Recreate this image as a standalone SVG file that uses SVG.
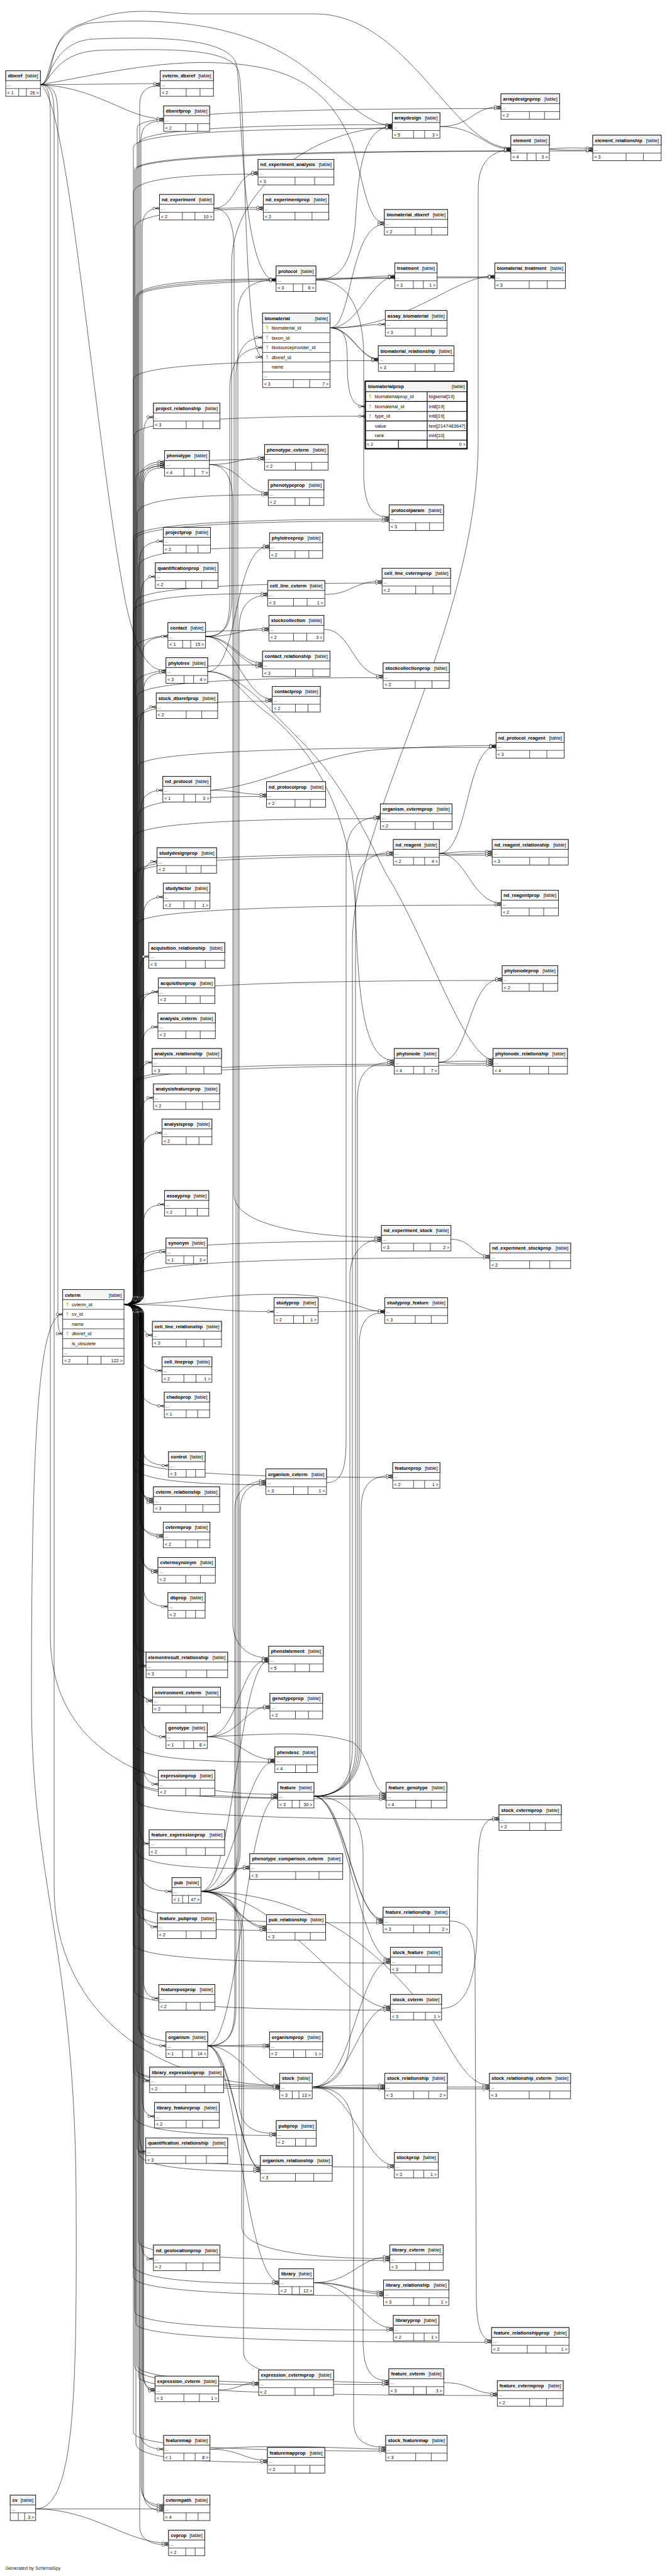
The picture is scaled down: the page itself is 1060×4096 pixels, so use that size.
<svg xmlns="http://www.w3.org/2000/svg" xmlns:xlink="http://www.w3.org/1999/xlink" width="1060" height="4096" viewBox="0 0 1060 4096">
<style>
.e{fill:none;stroke:#000;stroke-width:.6;marker-end:url(#cf)}
.b{fill:#fff;stroke:#000;stroke-width:.8}
.h{fill:#f4f4f4;stroke:#000;stroke-width:.8}
.l{fill:none;stroke:#000;stroke-width:.7}
.bt{fill:#fff;stroke:#000;stroke-width:1.7}
.lt{fill:none;stroke:#000;stroke-width:1.1}
text{font-family:"Liberation Sans",Arial,Helvetica,sans-serif;font-size:7px;fill:#000}
.n{font-weight:bold;font-size:7.5px}
.k{font-size:7.5px;text-anchor:end}
.c{font-size:7.5px}
.re{text-anchor:end}
</style>
<defs>
<marker id="cf" viewBox="0 0 12 8" refX="12" refY="4" markerWidth="12" markerHeight="8" markerUnits="userSpaceOnUse" orient="auto"><path d="M5.5 4H12M5.5 4L12 1.8M5.5 4L12 6.2" fill="none" stroke="#000" stroke-width=".6"/><circle cx="3.4" cy="4" r="2" fill="#fff" stroke="#000" stroke-width=".6"/></marker>
<g id="kp"><circle cy="-1.9" r="1.3" fill="#e6e600" stroke="#a8a800" stroke-width=".4"/><path d="M0 -.6V3.2M0 2.4H1M0 1.2H.8" fill="none" stroke="#b8b800" stroke-width=".7"/></g>
<g id="kf"><circle cy="-1.9" r="1.3" fill="#c8c8c8" stroke="#999" stroke-width=".4"/><path d="M0 -.6V3.2M0 2.4H1M0 1.2H.8" fill="none" stroke="#aaa" stroke-width=".7"/></g>
</defs>
<rect width="1060" height="4096" fill="#fff"/>
<g id="connectors">
<path class="e" d="M197 2074.3Q222 2074.3 222 2059.3L222 166Q222 136 254.7 136"/>
<path class="e" d="M197 2074.3Q224 2074.3 224 2059.3L224 221.8Q224 191.8 260.1 191.8"/>
<path class="e" d="M197 2074.3Q212 2074.3 212 2059.3L212 306.9Q212 276.9 410.1 276.9"/>
<path class="e" d="M197 2074.3Q226 2074.3 226 2059.3L226 361.2Q226 331.2 253.4 331.2"/>
<path class="e" d="M197 2074.3Q214 2074.3 214 2059.3L214 362.7Q214 332.7 418.5 332.7"/>
<path class="e" d="M197 2074.3Q216 2074.3 216 2059.3L216 473.5Q216 443.5 438.8 443.5"/>
<path class="e" d="M197 2074.3Q228 2074.3 228 2059.3L228 693.1Q228 663.1 243.9 663.1"/>
<path class="e" d="M197 2074.3Q218 2074.3 218 2059.3L218 202.6Q218 172.6 796.1 172.6"/>
<path class="e" d="M197 2074.3Q220 2074.3 220 2059.3L220 228.2Q220 198.2 623.4 198.2"/>
<path class="e" d="M197 2074.3Q212 2074.3 212 2059.3L212 234.2Q212 204.2 623.4 204.2"/>
<path class="e" d="M197 2074.3Q214 2074.3 214 2059.3L214 270Q214 240 811.9 240"/>
<path class="e" d="M197 2074.3Q216 2074.3 216 2059.3L216 270Q216 240 942 240"/>
<path class="e" d="M197 2074.3Q218 2074.3 218 2059.3L218 471.7Q218 441.7 627.5 441.7"/>
<path class="e" d="M197 2074.3Q220 2074.3 220 2059.3L220 471.7Q220 441.7 786.3 441.7"/>
<path class="e" d="M197 2074.3Q212 2074.3 212 2059.3L212 603.4Q212 573.4 601.2 573.4"/>
<path class="e" d="M197 2074.3Q214 2074.3 214 2059.3L214 691.8Q214 661.8 580.5 661.8"/>
<path class="e" d="M197 2074.3Q222 2074.3 222 2059.3L222 764Q222 734 261.5 734"/>
<path class="e" d="M197 2074.3Q224 2074.3 224 2059.3L224 767Q224 737 261.5 737"/>
<path class="e" d="M197 2074.3Q226 2074.3 226 2059.3L226 770Q226 740 261.5 740"/>
<path class="e" d="M197 2074.3Q228 2074.3 228 2059.3L228 773Q228 743 261.5 743"/>
<path class="e" d="M197 2074.3Q216 2074.3 216 2059.3L216 760.4Q216 730.4 420.6 730.4"/>
<path class="e" d="M197 2074.3Q218 2074.3 218 2059.3L218 816.7Q218 786.7 426.3 786.7"/>
<path class="e" d="M197 2074.3Q222 2074.3 222 2059.3L222 890.6Q222 860.6 259.4 860.6"/>
<path class="e" d="M197 2074.3Q220 2074.3 220 2059.3L220 900.8Q220 870.8 428.3 870.8"/>
<path class="e" d="M197 2074.3Q224 2074.3 224 2059.3L224 946.9Q224 916.9 246.9 916.9"/>
<path class="e" d="M197 2074.3Q212 2074.3 212 2059.3L212 973.7Q212 943.7 425.3 943.7"/>
<path class="e" d="M197 2074.3Q214 2074.3 214 2059.3L214 1032.1Q214 1002.1 427.3 1002.1"/>
<path class="e" d="M197 2074.3Q226 2074.3 226 2059.3L226 1042Q226 1012 266.9 1012"/>
<path class="e" d="M197 2074.3Q216 2074.3 216 2059.3L216 1087.3Q216 1057.3 417.2 1057.3"/>
<path class="e" d="M197 2074.3Q228 2074.3 228 2059.3L228 1099.3Q228 1069.3 263.8 1069.3"/>
<path class="e" d="M197 2074.3Q218 2074.3 218 2059.3L218 1145Q218 1115 432.7 1115"/>
<path class="e" d="M197 2074.3Q222 2074.3 222 2059.3L222 1154Q222 1124 248.3 1124"/>
<path class="e" d="M197 2074.3Q224 2074.3 224 2059.3L224 1286.6Q224 1256.6 258.8 1256.6"/>
<path class="e" d="M197 2074.3Q220 2074.3 220 2059.3L220 1296.4Q220 1266.4 423.6 1266.4"/>
<path class="e" d="M197 2074.3Q226 2074.3 226 2059.3L226 1400Q226 1370 249.6 1370"/>
<path class="e" d="M197 2074.3Q212 2074.3 212 2059.3L212 855.4Q212 825.4 618.4 825.4"/>
<path class="e" d="M197 2074.3Q214 2074.3 214 2059.3L214 858.4Q214 828.4 618.4 828.4"/>
<path class="e" d="M197 2074.3Q216 2074.3 216 2059.3L216 957.1Q216 927.1 607.2 927.1"/>
<path class="e" d="M197 2074.3Q218 2074.3 218 2059.3L218 1107.5Q218 1077.5 608.9 1077.5"/>
<path class="e" d="M197 2074.3Q220 2074.3 220 2059.3L220 1218.3Q220 1188.3 788.3 1188.3"/>
<path class="e" d="M197 2074.3Q212 2074.3 212 2059.3L212 1331.7Q212 1301.7 604.5 1301.7"/>
<path class="e" d="M197 2074.3Q214 2074.3 214 2059.3L214 1388.4Q214 1358.4 625.1 1358.4"/>
<path class="e" d="M197 2074.3Q216 2074.3 216 2059.3L216 1389.9Q216 1359.9 782.2 1359.9"/>
<path class="e" d="M197 2074.3Q228 2074.3 228 2059.3L228 1456.2Q228 1426.2 259.4 1426.2"/>
<path class="e" d="M197 2074.3Q222 2074.3 222 2059.3L222 1550.9Q222 1520.9 236.5 1520.9"/>
<path class="e" d="M197 2074.3Q224 2074.3 224 2059.3L224 1607.1Q224 1577.1 251.7 1577.1"/>
<path class="e" d="M197 2074.3Q226 2074.3 226 2059.3L226 1662.9Q226 1632.9 251 1632.9"/>
<path class="e" d="M197 2074.3Q222 2074.3 222 2059.3L222 1719.2Q222 1689.2 241.9 1689.2"/>
<path class="e" d="M197 2074.3Q224 2074.3 224 2059.3L224 1775.5Q224 1745.5 243.9 1745.5"/>
<path class="e" d="M197 2074.3Q226 2074.3 226 2059.3L226 1831.3Q226 1801.3 257.4 1801.3"/>
<path class="e" d="M197 2074.3Q228 2074.3 228 2059.3L228 1945.1Q228 1915.1 261.5 1915.1"/>
<path class="e" d="M197 2074.3Q224 2074.3 224 2059.3L224 2020.5Q224 1990.5 263.8 1990.5"/>
<path class="e" d="M197 2074.3Q218 2074.3 218 2059.3L218 1469.1Q218 1439.1 796.7 1439.1"/>
<path class="e" d="M197 2074.3Q220 2074.3 220 2059.3L220 1589Q220 1559 798.1 1559"/>
<path class="e" d="M197 2074.3Q212 2074.3 212 2059.3L212 1722.2Q212 1692.2 626.5 1692.2"/>
<path class="e" d="M197 2074.3Q214 2074.3 214 2059.3L214 1723.7Q214 1693.7 783.6 1693.7"/>
<path class="e" d="M197 2074.3Q216 2074.3 216 2059.3L216 2003.5Q216 1973.5 606.2 1973.5"/>
<path class="e" d="M197 2074.3Q218 2074.3 218 2059.3L218 2029.9Q218 1999.9 778.5 1999.9"/>
<path class="e" d="M197 2074.3C225 2074.3 218 2123.1 242.2 2123.1"/>
<path class="e" d="M197 2074.3C320 2074.3 320 2085.6 435.4 2085.6"/>
<path class="e" d="M197 2074.3C300 2072 330 2058 440 2058C560 2058 570 2085.6 611.6 2085.6"/>
<path class="e" d="M197 2074.3Q222 2074.3 222 2089.3L222 2149.4Q222 2179.4 257.4 2179.4"/>
<path class="e" d="M197 2074.3Q224 2074.3 224 2089.3L224 2205.6Q224 2235.6 261.1 2235.6"/>
<path class="e" d="M197 2074.3Q226 2074.3 226 2089.3L226 2300.3Q226 2330.3 267.9 2330.3"/>
<path class="e" d="M197 2074.3Q212 2074.3 212 2089.3L212 2330.7Q212 2360.7 422.6 2360.7"/>
<path class="e" d="M197 2074.3Q222 2074.3 222 2089.3L222 2353.1Q222 2383.1 243.9 2383.1"/>
<path class="e" d="M197 2074.3Q224 2074.3 224 2089.3L224 2356.1Q224 2386.1 243.9 2386.1"/>
<path class="e" d="M197 2074.3Q226 2074.3 226 2089.3L226 2359.1Q226 2389.1 243.9 2389.1"/>
<path class="e" d="M197 2074.3Q222 2074.3 222 2089.3L222 2410.8Q222 2440.8 259.4 2440.8"/>
<path class="e" d="M197 2074.3Q224 2074.3 224 2089.3L224 2413.8Q224 2443.8 259.4 2443.8"/>
<path class="e" d="M197 2074.3Q224 2074.3 224 2089.3L224 2467.1Q224 2497.1 251 2497.1"/>
<path class="e" d="M197 2074.3Q226 2074.3 226 2089.3L226 2470.1Q226 2500.1 251 2500.1"/>
<path class="e" d="M197 2074.3Q228 2074.3 228 2089.3L228 2524.4Q228 2554.4 266.9 2554.4"/>
<path class="e" d="M197 2074.3Q214 2074.3 214 2089.3L214 2612.5Q214 2642.5 427 2642.5"/>
<path class="e" d="M197 2074.3Q222 2074.3 222 2089.3L222 2619.1Q222 2649.1 232.1 2649.1"/>
<path class="e" d="M197 2074.3Q216 2074.3 216 2089.3L216 2686Q216 2716 429 2716"/>
<path class="e" d="M197 2074.3Q224 2074.3 224 2089.3L224 2674.9Q224 2704.9 242.5 2704.9"/>
<path class="e" d="M197 2074.3Q218 2074.3 218 2089.3L218 2319.2Q218 2349.2 624.1 2349.2"/>
<path class="e" d="M197 2074.3Q226 2074.3 226 2089.3L226 2731.6Q226 2761.6 263.8 2761.6"/>
<path class="e" d="M197 2074.3Q212 2074.3 212 2089.3L212 2771.9Q212 2801.9 436.8 2801.9"/>
<path class="e" d="M197 2074.3Q228 2074.3 228 2089.3L228 2807Q228 2837 251.7 2837"/>
<path class="e" d="M197 2074.3Q214 2074.3 214 2089.3L214 2829.2Q214 2859.2 441.5 2859.2"/>
<path class="e" d="M197 2074.3Q222 2074.3 222 2089.3L222 2901.6Q222 2931.6 237.1 2931.6"/>
<path class="e" d="M197 2074.3Q216 2074.3 216 2089.3L216 2941.1Q216 2971.1 396.9 2971.1"/>
<path class="e" d="M197 2074.3Q224 2074.3 224 2089.3L224 2977.5Q224 3007.5 273.3 3007.5"/>
<path class="e" d="M197 2074.3Q226 2074.3 226 2089.3L226 3033.8Q226 3063.8 250.3 3063.8"/>
<path class="e" d="M197 2074.3Q218 2074.3 218 2089.3L218 3039.4Q218 3069.4 423.6 3069.4"/>
<path class="e" d="M197 2074.3Q228 2074.3 228 2089.3L228 3147.6Q228 3177.6 252.3 3177.6"/>
<path class="e" d="M197 2074.3Q222 2074.3 222 2089.3L222 3223Q222 3253 263.8 3253"/>
<path class="e" d="M197 2074.3Q220 2074.3 220 2089.3L220 3224.5Q220 3254.5 428.3 3254.5"/>
<path class="e" d="M197 2074.3Q224 2074.3 224 2089.3L224 3278.9Q224 3308.9 237.8 3308.9"/>
<path class="e" d="M197 2074.3Q212 2074.3 212 2089.3L212 3291.5Q212 3321.5 444.5 3321.5"/>
<path class="e" d="M197 2074.3Q226 2074.3 226 2089.3L226 3335.1Q226 3365.1 245.6 3365.1"/>
<path class="e" d="M197 2074.3Q214 2074.3 214 2089.3L214 3365.4Q214 3395.4 439.1 3395.4"/>
<path class="e" d="M197 2074.3Q222 2074.3 222 2089.3L222 3391.4Q222 3421.4 231.7 3421.4"/>
<path class="e" d="M197 2074.3Q216 2074.3 216 2089.3L216 2830.7Q216 2860.7 613.7 2860.7"/>
<path class="e" d="M197 2074.3Q218 2074.3 218 2089.3L218 2863.5Q218 2893.5 793 2893.5"/>
<path class="e" d="M197 2074.3Q220 2074.3 220 2089.3L220 3027.6Q220 3057.6 608.9 3057.6"/>
<path class="e" d="M197 2074.3Q212 2074.3 212 2089.3L212 3091.3Q212 3121.3 620.4 3121.3"/>
<path class="e" d="M197 2074.3Q214 2074.3 214 2089.3L214 3166.3Q214 3196.3 620.4 3196.3"/>
<path class="e" d="M197 2074.3Q216 2074.3 216 2089.3L216 3291.5Q216 3321.5 611.6 3321.5"/>
<path class="e" d="M197 2074.3Q218 2074.3 218 2089.3L218 3291.5Q218 3321.5 777.8 3321.5"/>
<path class="e" d="M197 2074.3Q220 2074.3 220 2089.3L220 3422.6Q220 3452.6 413.8 3452.6"/>
<path class="e" d="M197 2074.3Q224 2074.3 224 2089.3L224 3561.8Q224 3591.8 243.9 3591.8"/>
<path class="e" d="M197 2074.3Q212 2074.3 212 2089.3L212 3601.1Q212 3631.1 443.2 3631.1"/>
<path class="e" d="M197 2074.3Q226 2074.3 226 2089.3L226 3768.7Q226 3798.7 246.3 3798.7"/>
<path class="e" d="M197 2074.3Q228 2074.3 228 2089.3L228 3771.7Q228 3801.7 246.3 3801.7"/>
<path class="e" d="M197 2074.3Q214 2074.3 214 2089.3L214 3761.8Q214 3791.8 411.1 3791.8"/>
<path class="e" d="M197 2074.3Q222 2074.3 222 2089.3L222 3864.3Q222 3894.3 260.1 3894.3"/>
<path class="e" d="M197 2074.3Q216 2074.3 216 2089.3L216 3885.2Q216 3915.2 425 3915.2"/>
<path class="e" d="M197 2074.3Q224 2074.3 224 2089.3L224 3953.3Q224 3983.3 260.1 3983.3"/>
<path class="e" d="M197 2074.3Q226 2074.3 226 2089.3L226 3956.3Q226 3986.3 260.1 3986.3"/>
<path class="e" d="M197 2074.3Q228 2074.3 228 2089.3L228 3962.3Q228 3992.3 260.1 3992.3"/>
<path class="e" d="M197 2074.3Q222 2074.3 222 2089.3L222 4016.7Q222 4046.7 267.9 4046.7"/>
<path class="e" d="M197 2074.3Q218 2074.3 218 2089.3L218 3415.9Q218 3445.9 626.8 3445.9"/>
<path class="e" d="M197 2074.3Q220 2074.3 220 2089.3L220 3564.4Q220 3594.4 619.4 3594.4"/>
<path class="e" d="M197 2074.3Q212 2074.3 212 2089.3L212 3620.3Q212 3650.3 609.6 3650.3"/>
<path class="e" d="M197 2074.3Q214 2074.3 214 2089.3L214 3675Q214 3705 625.1 3705"/>
<path class="e" d="M197 2074.3Q216 2074.3 216 2089.3L216 3694.4Q216 3724.4 781.2 3724.4"/>
<path class="e" d="M197 2074.3Q218 2074.3 218 2089.3L218 3761.6Q218 3791.6 618 3791.6"/>
<path class="e" d="M197 2074.3Q220 2074.3 220 2089.3L220 3779Q220 3809 790.3 3809"/>
<path class="e" d="M197 2074.3Q212 2074.3 212 2089.3L212 3867.3Q212 3897.3 613 3897.3"/>
<path class="e" d="M64.2 134.5C150 134.5 180 133 254.7 133"/>
<path class="e" d="M64.2 134.5C160 140 200 188.8 260.1 188.8"/>
<path class="e" d="M64.2 134.5C80 134.5 80 65 150 62C250 58 360 60 375 100C385 130 380 446.5 438.8 446.5"/>
<path class="e" d="M64.2 134.5C80 134.5 85 82 160 80C260 78 360 75 378 110C392 140 385 568 417.2 568"/>
<path class="e" d="M64.2 134.5C85 134.5 70 42 150 36C300 25 420 50 500 120C560 170 590 199.7 623.4 199.7"/>
<path class="e" d="M64.2 134.5C90 134.5 70 55 130 38C200 8 250 20 300 22L500 22C650 22 720 235.5 811.9 235.5"/>
<path class="e" d="M64.2 134.5C150 120 250 95 350 100C450 105 520 130 560 230C580 300 585 353.7 610.9 353.7"/>
<path class="e" d="M64.2 134.5C110 160 150 700 200 960C220 1050 240 1066.3 263.8 1066.3"/>
<path class="e" d="M64.2 134.5C80 134.5 80 160 80 200L80 2600C80 2760 200 2853.2 441.5 2853.2"/>
<path class="e" d="M64.2 134.5C86 134.5 86 160 86 200L86 3000C86 3200 250 3315.5 444.5 3315.5"/>
<path class="e" d="M64.2 134.5C92 134.5 92 160 92 200L92 2095C92 2112 94 2120.7 99.7 2120.7"/>
<path class="e" d="M56.7 3989.3C120 3989 122 3800 121 3500C120 3100 50 3000 50 2700C50 2300 60 2089.8 99.7 2089.8"/>
<path class="e" d="M56.7 3989.3L260.1 3989.3"/>
<path class="e" d="M56.7 3989.3C150 3990 200 4043.7 267.9 4043.7"/>
<path class="e" d="M339.9 331.2C375 331.2 375 273.9 410.1 273.9"/>
<path class="e" d="M339.9 331.2C380 331.2 380 329.7 418.5 329.7"/>
<path class="e" d="M339.9 331.2C360 331.2 372 350 372 400L372 1900C372 1950 500 1967.5 606.2 1967.5"/>
<path class="e" d="M502 445C540 445 560 420 565 350C570 260 580 201.2 623.4 201.2"/>
<path class="e" d="M502 445C560 445 580 438.7 627.5 438.7"/>
<path class="e" d="M502 445C540 445 575 470 578 560L578 760C580 810 595 822.4 618.4 822.4"/>
<path class="e" d="M524.6 521.4C560 521.4 555 356.7 610.9 356.7"/>
<path class="e" d="M524.6 521.4C570 521.4 590 440.2 627.5 440.2"/>
<path class="e" d="M524.6 521.4C650 521.4 720 438.7 786.3 438.7"/>
<path class="e" d="M524.6 521.4C570 521.4 580 515.7 612.3 515.7"/>
<path class="e" d="M524.6 521.4C560 521.4 570 570.4 601.2 570.4"/>
<path class="e" d="M524.6 521.4C555 521.4 575 571.9 601.2 571.9"/>
<path class="e" d="M524.6 521.4C550 521.4 552 540 552 580C552 630 560 646.3 580.5 646.3"/>
<path class="e" d="M699.1 201.2C750 201.2 750 169.6 796.1 169.6"/>
<path class="e" d="M699.1 201.2C760 201.2 770 237 811.9 237"/>
<path class="e" d="M873 237C905 234 910 235.5 942 235.5"/>
<path class="e" d="M873 237C905 240 910 238.5 942 238.5"/>
<path class="e" d="M694.7 440.2L786.3 440.2"/>
<path class="e" d="M326.7 1012C360 1012 365 990 365 950L365 620C365 570 390 552.6 417.2 552.6"/>
<path class="e" d="M326.7 1012C360 1012 368 990 368 950L368 420C368 300 500 202.7 623.4 202.7"/>
<path class="e" d="M326.7 1012C380 1012 380 999.1 427.3 999.1"/>
<path class="e" d="M326.7 1012C370 1012 380 1054.3 417.2 1054.3"/>
<path class="e" d="M326.7 1012C365 1012 385 1060.3 417.2 1060.3"/>
<path class="e" d="M326.7 1012C370 1012 390 1112 432.7 1112"/>
<path class="e" d="M332.8 738.5C380 738.5 380 727.4 420.6 727.4"/>
<path class="e" d="M332.8 738.5C380 738.5 390 783.7 426.3 783.7"/>
<path class="e" d="M332.8 738.5C358 738.5 370 760 370 800L370 2580C370 2620 400 2636.5 427 2636.5"/>
<path class="e" d="M330 1067.8C380 1067.8 370 867.8 428.3 867.8"/>
<path class="e" d="M330 1067.8C370 1067.8 380 1100 420 1130C500 1190 560 1300 565 1450C570 1600 580 1686.2 626.5 1686.2"/>
<path class="e" d="M330 1067.8C380 1070 420 1120 480 1180C560 1260 600 1370 620 1400C680 1500 740 1684.7 783.6 1684.7"/>
<path class="e" d="M334.8 1256.6C380 1256.6 380 1263.4 423.6 1263.4"/>
<path class="e" d="M334.8 1256.6C420 1250 500 1200 600 1192C700 1186 740 1185.3 788.3 1185.3"/>
<path class="e" d="M698.1 1356.9C745 1356.9 740 1186.8 788.3 1186.8"/>
<path class="e" d="M698.1 1356.9C740 1354 740 1353.9 782.2 1353.9"/>
<path class="e" d="M698.1 1356.9C740 1360 740 1356.9 782.2 1356.9"/>
<path class="e" d="M698.1 1356.9C740 1356.9 750 1436.1 796.7 1436.1"/>
<path class="e" d="M697.1 1689.2C750 1689.2 740 1556 798.1 1556"/>
<path class="e" d="M697.1 1689.2C740 1686 750 1687.7 783.6 1687.7"/>
<path class="e" d="M697.1 1689.2C740 1693 750 1690.7 783.6 1690.7"/>
<path class="e" d="M716.7 1970.5C750 1970.5 750 1996.9 778.5 1996.9"/>
<path class="e" d="M505.7 2085.6C560 2085.6 560 2084.1 611.6 2084.1"/>
<path class="e" d="M518.9 2357.7C545 2357.7 550 2330 550 2290L550 1360C550 1320 570 1298.7 604.5 1298.7"/>
<path class="e" d="M329.3 2761.6C380 2761.6 380 2638.5 427 2638.5"/>
<path class="e" d="M329.3 2761.6C380 2761.6 390 2713 429 2713"/>
<path class="e" d="M329.3 2761.6C380 2761.6 390 2797.9 436.8 2797.9"/>
<path class="e" d="M329.3 2761.6C420 2758 500 2750 560 2770C590 2790 590 2851.7 613.7 2851.7"/>
<path class="e" d="M498.9 2856.2C540 2856.2 560 2830 560 2780L560 1500C560 1300 760 1000 760 700L760 300C760 260 780 238.5 811.9 238.5"/>
<path class="e" d="M498.9 2856.2C540 2856.2 565 2830 565 2780L565 1420C565 1370 590 1355.4 625.1 1355.4"/>
<path class="e" d="M498.9 2856.2C540 2856.2 568 2830 568 2780L568 1750C568 1700 590 1689.2 626.5 1689.2"/>
<path class="e" d="M498.9 2856.2C540 2856.2 571 2830 571 2780L571 2140C571 2100 585 2087.1 611.6 2087.1"/>
<path class="e" d="M498.9 2856.2C540 2856.2 574 2830 574 2780L574 2400C574 2360 590 2346.2 624.1 2346.2"/>
<path class="e" d="M498.9 2856.2C560 2856.2 580 2854.7 613.7 2854.7"/>
<path class="e" d="M498.9 2856.2C560 2856.2 580 2857.7 613.7 2857.7"/>
<path class="e" d="M498.9 2856.2C550 2856.2 560 3051.6 608.9 3051.6"/>
<path class="e" d="M498.9 2856.2C545 2856.2 565 3054.6 608.9 3054.6"/>
<path class="e" d="M498.9 2856.2C550 2856.2 570 3115.3 620.4 3115.3"/>
<path class="e" d="M498.9 2856.2C540 2856.2 577 2880 577 2950L577 3720C577 3770 590 3785.6 618 3785.6"/>
<path class="e" d="M319.6 3007.5C360 3007.5 378 2980 378 2940L378 500C378 460 400 445 438.8 445"/>
<path class="e" d="M319.6 3007.5C360 3007.5 380 2980 380 2940L380 1000C380 960 400 946.7 425.3 946.7"/>
<path class="e" d="M319.6 3007.5C360 3007.5 382 2980 382 2940L382 2400C382 2370 400 2357.7 422.6 2357.7"/>
<path class="e" d="M319.6 3007.5C370 3007.5 380 2640.5 427 2640.5"/>
<path class="e" d="M319.6 3007.5C370 3007.5 390 2799.9 436.8 2799.9"/>
<path class="e" d="M319.6 3007.5C360 3007.5 360 2968.1 396.9 2968.1"/>
<path class="e" d="M319.6 3007.5C370 3007.5 380 3063.4 423.6 3063.4"/>
<path class="e" d="M319.6 3007.5C365 3007.5 385 3066.4 423.6 3066.4"/>
<path class="e" d="M319.6 3007.5C360 3007.5 380 3030 380 3070L380 3340C380 3380 400 3392.4 439.1 3392.4"/>
<path class="e" d="M319.6 3007.5C450 3010 550 3193.3 620.4 3193.3"/>
<path class="e" d="M319.6 3007.5C500 3010 600 3100 680 3200C720 3260 740 3315.5 777.8 3315.5"/>
<path class="e" d="M319.6 3007.5C360 3007.5 384 3030 384 3080L384 3540C384 3580 500 3591.4 619.4 3591.4"/>
<path class="e" d="M319.6 3007.5C360 3007.5 387 3030 387 3080L387 3740C387 3780 500 3788.6 618 3788.6"/>
<path class="e" d="M330 3253C365 3253 375 3230 375 3190L375 600C375 550 395 536.7 417.2 536.7"/>
<path class="e" d="M330 3253C365 3253 373 3230 373 3190L373 2400C373 2370 395 2354.7 422.6 2354.7"/>
<path class="e" d="M330 3253C380 3253 380 3251.5 428.3 3251.5"/>
<path class="e" d="M330 3253C380 3253 390 2856.2 441.5 2856.2"/>
<path class="e" d="M330 3253C380 3253 400 3318.5 444.5 3318.5"/>
<path class="e" d="M330 3253C370 3253 380 3446.6 413.8 3446.6"/>
<path class="e" d="M330 3253C365 3253 385 3449.6 413.8 3449.6"/>
<path class="e" d="M330 3253C375 3253 390 3628.1 443.2 3628.1"/>
<path class="e" d="M496.2 3318.5C530 3318.5 556 3290 556 3240L556 2030C556 1990 580 1970.5 606.2 1970.5"/>
<path class="e" d="M496.2 3318.5C560 3318.5 570 3118.3 620.4 3118.3"/>
<path class="e" d="M496.2 3318.5C560 3318.5 570 3190.3 620.4 3190.3"/>
<path class="e" d="M496.2 3318.5C550 3316 560 3315.5 611.6 3315.5"/>
<path class="e" d="M496.2 3318.5C550 3321 560 3318.5 611.6 3318.5"/>
<path class="e" d="M496.2 3318.5C560 3318.5 580 3442.9 626.8 3442.9"/>
<path class="e" d="M496.2 3318.5C540 3318.5 562 3340 562 3400L562 3850C562 3880 580 3891.3 613 3891.3"/>
<path class="e" d="M498.6 3629.6C560 3629.6 570 3588.4 619.4 3588.4"/>
<path class="e" d="M498.6 3629.6C555 3629.6 560 3644.3 609.6 3644.3"/>
<path class="e" d="M498.6 3629.6C550 3629.6 565 3647.3 609.6 3647.3"/>
<path class="e" d="M498.6 3629.6C560 3629.6 580 3702 625.1 3702"/>
<path class="e" d="M347.6 3800.2C380 3800.2 380 3788.8 411.1 3788.8"/>
<path class="e" d="M333.7 3894.3C380 3894.3 390 3912.2 425 3912.2"/>
<path class="e" d="M333.7 3894.3C450 3885 560 3894.3 613 3894.3"/>
<path class="e" d="M516.2 945.2C560 945.2 560 924.1 607.2 924.1"/>
<path class="e" d="M514.8 1000.6C560 1000.6 560 1074.5 608.9 1074.5"/>
<path class="e" d="M714.6 3054.6C750 3054.6 755 3080 755 3140L757 3650C757 3700 765 3721.4 781.2 3721.4"/>
<path class="e" d="M701.8 3193.3C740 3193.3 755 3150 758 3080L760 2950C762 2905 770 2890.5 793 2890.5"/>
<path class="e" d="M710.9 3318.5L777.8 3318.5"/>
<path class="e" d="M705.2 3788.6C750 3788.6 750 3806 790.3 3806"/>
</g>
<g id="nodes">
<g id="t-dbxref" transform="translate(9.1,112.5)"><rect class="b" width="55.1" height="40.6"/><rect class="h" width="55.1" height="15.7"/><path class="l" d="M0 28.3H55.1M20.6 28.3V40.6M32.8 28.3V40.6"/><text class="n" x="3.5" y="10.9">dbxref</text><text class="k" x="51.6" y="10.9">[table]</text><text x="2" y="24.6">...</text><text x="2.5" y="37.4">&lt; 1</text><text class="re" x="52.6" y="37.4">26 &gt;</text></g>
<g id="t-cvterm_dbxref" transform="translate(254.7,112.5)"><rect class="b" width="84.5" height="40.6"/><rect class="h" width="84.5" height="15.7"/><path class="l" d="M0 28.3H84.5M41.2 28.3V40.6M63.2 28.3V40.6"/><text class="n" x="3.5" y="10.9">cvterm_dbxref</text><text class="k" x="81" y="10.9">[table]</text><text x="2" y="24.6">...</text><text x="2.5" y="37.4">&lt; 2</text></g>
<g id="t-dbxrefprop" transform="translate(260.1,168.3)"><rect class="b" width="73" height="40.6"/><rect class="h" width="73" height="15.7"/><path class="l" d="M0 28.3H73M35.1 28.3V40.6M54.1 28.3V40.6"/><text class="n" x="3.5" y="10.9">dbxrefprop</text><text class="k" x="69.5" y="10.9">[table]</text><text x="2" y="24.6">...</text><text x="2.5" y="37.4">&lt; 2</text></g>
<g id="t-nd_experiment_analysis" transform="translate(410.1,253.4)"><rect class="b" width="120.6" height="40.6"/><rect class="h" width="120.6" height="15.7"/><path class="l" d="M0 28.3H120.6M58.8 28.3V40.6M89.9 28.3V40.6"/><text class="n" x="3.5" y="10.9">nd_experiment_analysis</text><text class="k" x="117.1" y="10.9">[table]</text><text x="2" y="24.6">...</text><text x="2.5" y="37.4">&lt; 3</text></g>
<g id="t-nd_experiment" transform="translate(253.4,309.2)"><rect class="b" width="86.5" height="40.6"/><rect class="h" width="86.5" height="15.7"/><path class="l" d="M0 28.3H86.5M36.4 28.3V40.6M56.4 28.3V40.6"/><text class="n" x="3.5" y="10.9">nd_experiment</text><text class="k" x="83" y="10.9">[table]</text><text x="2" y="24.6">...</text><text x="2.5" y="37.4">&lt; 2</text><text class="re" x="84" y="37.4">10 &gt;</text></g>
<g id="t-nd_experimentprop" transform="translate(418.5,309.2)"><rect class="b" width="104" height="40.6"/><rect class="h" width="104" height="15.7"/><path class="l" d="M0 28.3H104M50.4 28.3V40.6M77.4 28.3V40.6"/><text class="n" x="3.5" y="10.9">nd_experimentprop</text><text class="k" x="100.5" y="10.9">[table]</text><text x="2" y="24.6">...</text><text x="2.5" y="37.4">&lt; 2</text></g>
<g id="t-protocol" transform="translate(438.8,423)"><rect class="b" width="63.2" height="40.6"/><rect class="h" width="63.2" height="15.7"/><path class="l" d="M0 28.3H63.2M27.4 28.3V40.6M42.2 28.3V40.6"/><text class="n" x="3.5" y="10.9">protocol</text><text class="k" x="59.7" y="10.9">[table]</text><text x="2" y="24.6">...</text><text x="2.5" y="37.4">&lt; 3</text><text class="re" x="60.7" y="37.4">6 &gt;</text></g>
<g id="t-biomaterial" transform="translate(417.2,498)"><rect class="b" width="107.4" height="118.2"/><rect class="h" width="107.4" height="15.7"/><path class="l" d="M0 31H107.4M0 46.7H107.4M0 62.4H107.4M0 77.7H107.4M0 93.4H107.4M0 105.6H107.4M49 105.6V118.2M75 105.6V118.2"/><text class="n" x="3.5" y="10.9">biomaterial</text><text class="k" x="103.9" y="10.9">[table]</text><use href="#kp" x="7.4" y="23.3"/><text class="c" x="14.5" y="26">biomaterial_id</text><use href="#kf" x="7.4" y="38.8"/><text class="c" x="14.5" y="41.5">taxon_id</text><use href="#kf" x="7.4" y="54.5"/><text class="c" x="14.5" y="57.2">biosourceprovider_id</text><use href="#kf" x="7.4" y="70"/><text class="c" x="14.5" y="72.7">dbxref_id</text><text class="c" x="14.5" y="88.2">name</text><text x="2" y="102">...</text><text x="2.5" y="114.8">&lt; 3</text><text class="re" x="104.9" y="114.8">7 &gt;</text></g>
<g id="t-project_relationship" transform="translate(243.9,641.1)"><rect class="b" width="105.7" height="40.6"/><rect class="h" width="105.7" height="15.7"/><path class="l" d="M0 28.3H105.7M52 28.3V40.6M78.7 28.3V40.6"/><text class="n" x="3.5" y="10.9">project_relationship</text><text class="k" x="102.2" y="10.9">[table]</text><text x="2" y="24.6">...</text><text x="2.5" y="37.4">&lt; 3</text></g>
<g id="t-arraydesignprop" transform="translate(796.1,149.1)"><rect class="b" width="93.2" height="40.6"/><rect class="h" width="93.2" height="15.7"/><path class="l" d="M0 28.3H93.2M45.2 28.3V40.6M69.2 28.3V40.6"/><text class="n" x="3.5" y="10.9">arraydesignprop</text><text class="k" x="89.7" y="10.9">[table]</text><text x="2" y="24.6">...</text><text x="2.5" y="37.4">&lt; 2</text></g>
<g id="t-arraydesign" transform="translate(623.4,179.2)"><rect class="b" width="75.7" height="40.6"/><rect class="h" width="75.7" height="15.7"/><path class="l" d="M0 28.3H75.7M33.8 28.3V40.6M51.4 28.3V40.6"/><text class="n" x="3.5" y="10.9">arraydesign</text><text class="k" x="72.2" y="10.9">[table]</text><text x="2" y="24.6">...</text><text x="2.5" y="37.4">&lt; 5</text><text class="re" x="73.2" y="37.4">3 &gt;</text></g>
<g id="t-element" transform="translate(811.9,215)"><rect class="b" width="61.1" height="40.6"/><rect class="h" width="61.1" height="15.7"/><path class="l" d="M0 28.3H61.1M25.7 28.3V40.6M40.2 28.3V40.6"/><text class="n" x="3.5" y="10.9">element</text><text class="k" x="57.6" y="10.9">[table]</text><text x="2" y="24.6">...</text><text x="2.5" y="37.4">&lt; 4</text><text class="re" x="58.6" y="37.4">3 &gt;</text></g>
<g id="t-element_relationship" transform="translate(942,215)"><rect class="b" width="108.8" height="40.6"/><rect class="h" width="108.8" height="15.7"/><path class="l" d="M0 28.3H108.8M53 28.3V40.6M80.4 28.3V40.6"/><text class="n" x="3.5" y="10.9">element_relationship</text><text class="k" x="105.3" y="10.9">[table]</text><text x="2" y="24.6">...</text><text x="2.5" y="37.4">&lt; 3</text></g>
<g id="t-biomaterial_dbxref" transform="translate(610.9,333.2)"><rect class="b" width="100.7" height="40.6"/><rect class="h" width="100.7" height="15.7"/><path class="l" d="M0 28.3H100.7M49 28.3V40.6M75 28.3V40.6"/><text class="n" x="3.5" y="10.9">biomaterial_dbxref</text><text class="k" x="97.2" y="10.9">[table]</text><text x="2" y="24.6">...</text><text x="2.5" y="37.4">&lt; 2</text></g>
<g id="t-treatment" transform="translate(627.5,418.2)"><rect class="b" width="67.2" height="40.6"/><rect class="h" width="67.2" height="15.7"/><path class="l" d="M0 28.3H67.2M29.4 28.3V40.6M45.3 28.3V40.6"/><text class="n" x="3.5" y="10.9">treatment</text><text class="k" x="63.7" y="10.9">[table]</text><text x="2" y="24.6">...</text><text x="2.5" y="37.4">&lt; 3</text><text class="re" x="64.7" y="37.4">1 &gt;</text></g>
<g id="t-biomaterial_treatment" transform="translate(786.3,418.2)"><rect class="b" width="112.2" height="40.6"/><rect class="h" width="112.2" height="15.7"/><path class="l" d="M0 28.3H112.2M54.7 28.3V40.6M83.4 28.3V40.6"/><text class="n" x="3.5" y="10.9">biomaterial_treatment</text><text class="k" x="108.7" y="10.9">[table]</text><text x="2" y="24.6">...</text><text x="2.5" y="37.4">&lt; 3</text></g>
<g id="t-assay_biomaterial" transform="translate(612.3,493.7)"><rect class="b" width="98" height="40.6"/><rect class="h" width="98" height="15.7"/><path class="l" d="M0 28.3H98M47.6 28.3V40.6M73 28.3V40.6"/><text class="n" x="3.5" y="10.9">assay_biomaterial</text><text class="k" x="94.5" y="10.9">[table]</text><text x="2" y="24.6">...</text><text x="2.5" y="37.4">&lt; 3</text></g>
<g id="t-biomaterial_relationship" transform="translate(601.2,549.9)"><rect class="b" width="120.3" height="40.6"/><rect class="h" width="120.3" height="15.7"/><path class="l" d="M0 28.3H120.3M58.7 28.3V40.6M89.8 28.3V40.6"/><text class="n" x="3.5" y="10.9">biomaterial_relationship</text><text class="k" x="116.8" y="10.9">[table]</text><text x="2" y="24.6">...</text><text x="2.5" y="37.4">&lt; 3</text></g>
<g id="t-biomaterialprop" transform="translate(580.5,606.2)"><rect class="bt" width="161.8" height="107.3"/><rect class="h" width="161.8" height="16.6" style="stroke-width:1.1"/><path class="lt" d="M0 32.2H161.8M0 48H161.8M0 63.2H161.8M0 78.5H161.8M0 93.7H161.8M98.4 16.6V107.3M52.7 93.7V107.3"/><rect class="bt" width="161.8" height="107.3" fill="none" style="fill:none"/><text class="n" x="4.6" y="11.3">biomaterialprop</text><text class="k" x="158" y="11.3">[table]</text><use href="#kp" x="7.8" y="24.4"/><text class="c" x="15.2" y="27.1">biomaterialprop_id</text><text class="c" x="101.1" y="27.1">bigserial[19]</text><use href="#kf" x="7.8" y="40.1"/><text class="c" x="15.2" y="42.8">biomaterial_id</text><text class="c" x="101.1" y="42.8">int8[19]</text><use href="#kf" x="7.8" y="55.6"/><text class="c" x="15.2" y="58.3">type_id</text><text class="c" x="101.1" y="58.3">int8[19]</text><text class="c" x="15.2" y="73.5">value</text><text class="c" x="101.1" y="73.5">text[2147483647]</text><text class="c" x="15.2" y="88.8">rank</text><text class="c" x="101.1" y="88.8">int4[10]</text><text x="2.5" y="103.2">&lt; 2</text><text class="re" x="159.3" y="103.2">0 &gt;</text></g>
<g id="t-phenotype" transform="translate(261.5,716.5)"><rect class="b" width="71.3" height="40.6"/><rect class="h" width="71.3" height="15.7"/><path class="l" d="M0 28.3H71.3M30.7 28.3V40.6M47.9 28.3V40.6"/><text class="n" x="3.5" y="10.9">phenotype</text><text class="k" x="67.8" y="10.9">[table]</text><text x="2" y="24.6">...</text><text x="2.5" y="37.4">&lt; 4</text><text class="re" x="68.8" y="37.4">7 &gt;</text></g>
<g id="t-phenotype_cvterm" transform="translate(420.6,706.9)"><rect class="b" width="100.7" height="40.6"/><rect class="h" width="100.7" height="15.7"/><path class="l" d="M0 28.3H100.7M48.9 28.3V40.6M74.6 28.3V40.6"/><text class="n" x="3.5" y="10.9">phenotype_cvterm</text><text class="k" x="97.2" y="10.9">[table]</text><text x="2" y="24.6">...</text><text x="2.5" y="37.4">&lt; 2</text></g>
<g id="t-phenotypeprop" transform="translate(426.3,763.2)"><rect class="b" width="88.5" height="40.6"/><rect class="h" width="88.5" height="15.7"/><path class="l" d="M0 28.3H88.5M42.6 28.3V40.6M65.5 28.3V40.6"/><text class="n" x="3.5" y="10.9">phenotypeprop</text><text class="k" x="85" y="10.9">[table]</text><text x="2" y="24.6">...</text><text x="2.5" y="37.4">&lt; 2</text></g>
<g id="t-projectprop" transform="translate(259.4,838.6)"><rect class="b" width="75" height="40.6"/><rect class="h" width="75" height="15.7"/><path class="l" d="M0 28.3H75M36.5 28.3V40.6M55.4 28.3V40.6"/><text class="n" x="3.5" y="10.9">projectprop</text><text class="k" x="71.5" y="10.9">[table]</text><text x="2" y="24.6">...</text><text x="2.5" y="37.4">&lt; 2</text></g>
<g id="t-phylotreeprop" transform="translate(428.3,847.3)"><rect class="b" width="84.5" height="40.6"/><rect class="h" width="84.5" height="15.7"/><path class="l" d="M0 28.3H84.5M40.6 28.3V40.6M62.5 28.3V40.6"/><text class="n" x="3.5" y="10.9">phylotreeprop</text><text class="k" x="81" y="10.9">[table]</text><text x="2" y="24.6">...</text><text x="2.5" y="37.4">&lt; 2</text></g>
<g id="t-quantificationprop" transform="translate(246.9,894.9)"><rect class="b" width="99.7" height="40.6"/><rect class="h" width="99.7" height="15.7"/><path class="l" d="M0 28.3H99.7M48.3 28.3V40.6M73.7 28.3V40.6"/><text class="n" x="3.5" y="10.9">quantificationprop</text><text class="k" x="96.2" y="10.9">[table]</text><text x="2" y="24.6">...</text><text x="2.5" y="37.4">&lt; 2</text></g>
<g id="t-cell_line_cvterm" transform="translate(425.3,923.2)"><rect class="b" width="90.9" height="40.6"/><rect class="h" width="90.9" height="15.7"/><path class="l" d="M0 28.3H90.9M41.2 28.3V40.6M62.8 28.3V40.6"/><text class="n" x="3.5" y="10.9">cell_line_cvterm</text><text class="k" x="87.4" y="10.9">[table]</text><text x="2" y="24.6">...</text><text x="2.5" y="37.4">&lt; 3</text><text class="re" x="88.4" y="37.4">1 &gt;</text></g>
<g id="t-stockcollection" transform="translate(427.3,978.6)"><rect class="b" width="87.5" height="40.6"/><rect class="h" width="87.5" height="15.7"/><path class="l" d="M0 28.3H87.5M39.2 28.3V40.6M60.2 28.3V40.6"/><text class="n" x="3.5" y="10.9">stockcollection</text><text class="k" x="84" y="10.9">[table]</text><text x="2" y="24.6">...</text><text x="2.5" y="37.4">&lt; 2</text><text class="re" x="85" y="37.4">3 &gt;</text></g>
<g id="t-contact" transform="translate(266.9,990)"><rect class="b" width="59.8" height="40.6"/><rect class="h" width="59.8" height="15.7"/><path class="l" d="M0 28.3H59.8M23.3 28.3V40.6M36.1 28.3V40.6"/><text class="n" x="3.5" y="10.9">contact</text><text class="k" x="56.3" y="10.9">[table]</text><text x="2" y="24.6">...</text><text x="2.5" y="37.4">&lt; 1</text><text class="re" x="57.3" y="37.4">15 &gt;</text></g>
<g id="t-contact_relationship" transform="translate(417.2,1035.3)"><rect class="b" width="107.1" height="40.6"/><rect class="h" width="107.1" height="15.7"/><path class="l" d="M0 28.3H107.1M52.3 28.3V40.6M80 28.3V40.6"/><text class="n" x="3.5" y="10.9">contact_relationship</text><text class="k" x="103.6" y="10.9">[table]</text><text x="2" y="24.6">...</text><text x="2.5" y="37.4">&lt; 3</text></g>
<g id="t-phylotree" transform="translate(263.8,1045.8)"><rect class="b" width="66.2" height="40.6"/><rect class="h" width="66.2" height="15.7"/><path class="l" d="M0 28.3H66.2M28.7 28.3V40.6M43.9 28.3V40.6"/><text class="n" x="3.5" y="10.9">phylotree</text><text class="k" x="62.7" y="10.9">[table]</text><text x="2" y="24.6">...</text><text x="2.5" y="37.4">&lt; 3</text><text class="re" x="63.7" y="37.4">4 &gt;</text></g>
<g id="t-contactprop" transform="translate(432.7,1091.5)"><rect class="b" width="76.3" height="40.6"/><rect class="h" width="76.3" height="15.7"/><path class="l" d="M0 28.3H76.3M36.8 28.3V40.6M56.8 28.3V40.6"/><text class="n" x="3.5" y="10.9">contactprop</text><text class="k" x="72.8" y="10.9">[table]</text><text x="2" y="24.6">...</text><text x="2.5" y="37.4">&lt; 2</text></g>
<g id="t-stock_dbxrefprop" transform="translate(248.3,1102)"><rect class="b" width="97.6" height="40.6"/><rect class="h" width="97.6" height="15.7"/><path class="l" d="M0 28.3H97.6M47.6 28.3V40.6M72.3 28.3V40.6"/><text class="n" x="3.5" y="10.9">stock_dbxrefprop</text><text class="k" x="94.1" y="10.9">[table]</text><text x="2" y="24.6">...</text><text x="2.5" y="37.4">&lt; 2</text></g>
<g id="t-nd_protocol" transform="translate(258.8,1234.6)"><rect class="b" width="76" height="40.6"/><rect class="h" width="76" height="15.7"/><path class="l" d="M0 28.3H76M33.4 28.3V40.6M52 28.3V40.6"/><text class="n" x="3.5" y="10.9">nd_protocol</text><text class="k" x="72.5" y="10.9">[table]</text><text x="2" y="24.6">...</text><text x="2.5" y="37.4">&lt; 1</text><text class="re" x="73.5" y="37.4">3 &gt;</text></g>
<g id="t-nd_protocolprop" transform="translate(423.6,1242.9)"><rect class="b" width="93.9" height="40.6"/><rect class="h" width="93.9" height="15.7"/><path class="l" d="M0 28.3H93.9M45.3 28.3V40.6M69.6 28.3V40.6"/><text class="n" x="3.5" y="10.9">nd_protocolprop</text><text class="k" x="90.4" y="10.9">[table]</text><text x="2" y="24.6">...</text><text x="2.5" y="37.4">&lt; 2</text></g>
<g id="t-studydesignprop" transform="translate(249.6,1348)"><rect class="b" width="94.6" height="40.6"/><rect class="h" width="94.6" height="15.7"/><path class="l" d="M0 28.3H94.6M46.3 28.3V40.6M70 28.3V40.6"/><text class="n" x="3.5" y="10.9">studydesignprop</text><text class="k" x="91.1" y="10.9">[table]</text><text x="2" y="24.6">...</text><text x="2.5" y="37.4">&lt; 2</text></g>
<g id="t-protocolparam" transform="translate(618.4,802.9)"><rect class="b" width="86.5" height="40.6"/><rect class="h" width="86.5" height="15.7"/><path class="l" d="M0 28.3H86.5M42.2 28.3V40.6M64.2 28.3V40.6"/><text class="n" x="3.5" y="10.9">protocolparam</text><text class="k" x="83" y="10.9">[table]</text><text x="2" y="24.6">...</text><text x="2.5" y="37.4">&lt; 3</text></g>
<g id="t-cell_line_cvtermprop" transform="translate(607.2,903.6)"><rect class="b" width="108.8" height="40.6"/><rect class="h" width="108.8" height="15.7"/><path class="l" d="M0 28.3H108.8M53.4 28.3V40.6M80.8 28.3V40.6"/><text class="n" x="3.5" y="10.9">cell_line_cvtermprop</text><text class="k" x="105.3" y="10.9">[table]</text><text x="2" y="24.6">...</text><text x="2.5" y="37.4">&lt; 2</text></g>
<g id="t-stockcollectionprop" transform="translate(608.9,1054)"><rect class="b" width="105.1" height="40.6"/><rect class="h" width="105.1" height="15.7"/><path class="l" d="M0 28.3H105.1M51 28.3V40.6M77.7 28.3V40.6"/><text class="n" x="3.5" y="10.9">stockcollectionprop</text><text class="k" x="101.6" y="10.9">[table]</text><text x="2" y="24.6">...</text><text x="2.5" y="37.4">&lt; 2</text></g>
<g id="t-nd_protocol_reagent" transform="translate(788.3,1164.8)"><rect class="b" width="108.4" height="40.6"/><rect class="h" width="108.4" height="15.7"/><path class="l" d="M0 28.3H108.4M53.4 28.3V40.6M80.7 28.3V40.6"/><text class="n" x="3.5" y="10.9">nd_protocol_reagent</text><text class="k" x="104.9" y="10.9">[table]</text><text x="2" y="24.6">...</text><text x="2.5" y="37.4">&lt; 3</text></g>
<g id="t-organism_cvtermprop" transform="translate(604.5,1278.2)"><rect class="b" width="113.8" height="40.6"/><rect class="h" width="113.8" height="15.7"/><path class="l" d="M0 28.3H113.8M55.4 28.3V40.6M84.1 28.3V40.6"/><text class="n" x="3.5" y="10.9">organism_cvtermprop</text><text class="k" x="110.3" y="10.9">[table]</text><text x="2" y="24.6">...</text><text x="2.5" y="37.4">&lt; 2</text></g>
<g id="t-nd_reagent" transform="translate(625.1,1334.9)"><rect class="b" width="73" height="40.6"/><rect class="h" width="73" height="15.7"/><path class="l" d="M0 28.3H73M32.1 28.3V40.6M49.7 28.3V40.6"/><text class="n" x="3.5" y="10.9">nd_reagent</text><text class="k" x="69.5" y="10.9">[table]</text><text x="2" y="24.6">...</text><text x="2.5" y="37.4">&lt; 2</text><text class="re" x="70.5" y="37.4">4 &gt;</text></g>
<g id="t-nd_reagent_relationship" transform="translate(782.2,1334.9)"><rect class="b" width="120.9" height="40.6"/><rect class="h" width="120.9" height="15.7"/><path class="l" d="M0 28.3H120.9M59.5 28.3V40.6M90.2 28.3V40.6"/><text class="n" x="3.5" y="10.9">nd_reagent_relationship</text><text class="k" x="117.4" y="10.9">[table]</text><text x="2" y="24.6">...</text><text x="2.5" y="37.4">&lt; 3</text></g>
<g id="t-studyfactor" transform="translate(259.4,1404.2)"><rect class="b" width="74.3" height="40.6"/><rect class="h" width="74.3" height="15.7"/><path class="l" d="M0 28.3H74.3M32.8 28.3V40.6M50.7 28.3V40.6"/><text class="n" x="3.5" y="10.9">studyfactor</text><text class="k" x="70.8" y="10.9">[table]</text><text x="2" y="24.6">...</text><text x="2.5" y="37.4">&lt; 2</text><text class="re" x="71.8" y="37.4">1 &gt;</text></g>
<g id="t-acquisition_relationship" transform="translate(236.5,1498.9)"><rect class="b" width="120.6" height="40.6"/><rect class="h" width="120.6" height="15.7"/><path class="l" d="M0 28.3H120.6M58.7 28.3V40.6M89.8 28.3V40.6"/><text class="n" x="3.5" y="10.9">acquisition_relationship</text><text class="k" x="117.1" y="10.9">[table]</text><text x="2" y="24.6">...</text><text x="2.5" y="37.4">&lt; 3</text></g>
<g id="t-acquisitionprop" transform="translate(251.7,1555.1)"><rect class="b" width="89.9" height="40.6"/><rect class="h" width="89.9" height="15.7"/><path class="l" d="M0 28.3H89.9M43.5 28.3V40.6M66.5 28.3V40.6"/><text class="n" x="3.5" y="10.9">acquisitionprop</text><text class="k" x="86.4" y="10.9">[table]</text><text x="2" y="24.6">...</text><text x="2.5" y="37.4">&lt; 2</text></g>
<g id="t-analysis_cvterm" transform="translate(251,1610.9)"><rect class="b" width="91.2" height="40.6"/><rect class="h" width="91.2" height="15.7"/><path class="l" d="M0 28.3H91.2M44.2 28.3V40.6M67.2 28.3V40.6"/><text class="n" x="3.5" y="10.9">analysis_cvterm</text><text class="k" x="87.7" y="10.9">[table]</text><text x="2" y="24.6">...</text><text x="2.5" y="37.4">&lt; 2</text></g>
<g id="t-analysis_relationship" transform="translate(241.9,1667.2)"><rect class="b" width="110.1" height="40.6"/><rect class="h" width="110.1" height="15.7"/><path class="l" d="M0 28.3H110.1M54 28.3V40.6M82.1 28.3V40.6"/><text class="n" x="3.5" y="10.9">analysis_relationship</text><text class="k" x="106.6" y="10.9">[table]</text><text x="2" y="24.6">...</text><text x="2.5" y="37.4">&lt; 3</text></g>
<g id="t-analysisfeatureprop" transform="translate(243.9,1723.5)"><rect class="b" width="105.1" height="40.6"/><rect class="h" width="105.1" height="15.7"/><path class="l" d="M0 28.3H105.1M51.3 28.3V40.6M78 28.3V40.6"/><text class="n" x="3.5" y="10.9">analysisfeatureprop</text><text class="k" x="101.6" y="10.9">[table]</text><text x="2" y="24.6">...</text><text x="2.5" y="37.4">&lt; 2</text></g>
<g id="t-analysisprop" transform="translate(257.4,1779.3)"><rect class="b" width="79.4" height="40.6"/><rect class="h" width="79.4" height="15.7"/><path class="l" d="M0 28.3H79.4M38.5 28.3V40.6M58.8 28.3V40.6"/><text class="n" x="3.5" y="10.9">analysisprop</text><text class="k" x="75.9" y="10.9">[table]</text><text x="2" y="24.6">...</text><text x="2.5" y="37.4">&lt; 2</text></g>
<g id="t-assayprop" transform="translate(261.5,1893.1)"><rect class="b" width="70.3" height="40.6"/><rect class="h" width="70.3" height="15.7"/><path class="l" d="M0 28.3H70.3M33.7 28.3V40.6M52 28.3V40.6"/><text class="n" x="3.5" y="10.9">assayprop</text><text class="k" x="66.8" y="10.9">[table]</text><text x="2" y="24.6">...</text><text x="2.5" y="37.4">&lt; 2</text></g>
<g id="t-synonym" transform="translate(263.8,1968.5)"><rect class="b" width="65.5" height="40.6"/><rect class="h" width="65.5" height="15.7"/><path class="l" d="M0 28.3H65.5M28.4 28.3V40.6M43.9 28.3V40.6"/><text class="n" x="3.5" y="10.9">synonym</text><text class="k" x="62" y="10.9">[table]</text><text x="2" y="24.6">...</text><text x="2.5" y="37.4">&lt; 1</text><text class="re" x="63" y="37.4">3 &gt;</text></g>
<g id="t-nd_reagentprop" transform="translate(796.7,1415.6)"><rect class="b" width="90.9" height="40.6"/><rect class="h" width="90.9" height="15.7"/><path class="l" d="M0 28.3H90.9M44.3 28.3V40.6M67.3 28.3V40.6"/><text class="n" x="3.5" y="10.9">nd_reagentprop</text><text class="k" x="87.4" y="10.9">[table]</text><text x="2" y="24.6">...</text><text x="2.5" y="37.4">&lt; 2</text></g>
<g id="t-phylonodeprop" transform="translate(798.1,1535.5)"><rect class="b" width="88.2" height="40.6"/><rect class="h" width="88.2" height="15.7"/><path class="l" d="M0 28.3H88.2M42.9 28.3V40.6M65.2 28.3V40.6"/><text class="n" x="3.5" y="10.9">phylonodeprop</text><text class="k" x="84.7" y="10.9">[table]</text><text x="2" y="24.6">...</text><text x="2.5" y="37.4">&lt; 2</text></g>
<g id="t-phylonode" transform="translate(626.5,1667.2)"><rect class="b" width="70.6" height="40.6"/><rect class="h" width="70.6" height="15.7"/><path class="l" d="M0 28.3H70.6M30.7 28.3V40.6M47.6 28.3V40.6"/><text class="n" x="3.5" y="10.9">phylonode</text><text class="k" x="67.1" y="10.9">[table]</text><text x="2" y="24.6">...</text><text x="2.5" y="37.4">&lt; 4</text><text class="re" x="68.1" y="37.4">7 &gt;</text></g>
<g id="t-phylonode_relationship" transform="translate(783.6,1667.2)"><rect class="b" width="118.2" height="40.6"/><rect class="h" width="118.2" height="15.7"/><path class="l" d="M0 28.3H118.2M58.1 28.3V40.6M88.1 28.3V40.6"/><text class="n" x="3.5" y="10.9">phylonode_relationship</text><text class="k" x="114.7" y="10.9">[table]</text><text x="2" y="24.6">...</text><text x="2.5" y="37.4">&lt; 4</text></g>
<g id="t-nd_experiment_stock" transform="translate(606.2,1948.5)"><rect class="b" width="110.5" height="40.6"/><rect class="h" width="110.5" height="15.7"/><path class="l" d="M0 28.3H110.5M51 28.3V40.6M77.7 28.3V40.6"/><text class="n" x="3.5" y="10.9">nd_experiment_stock</text><text class="k" x="107" y="10.9">[table]</text><text x="2" y="24.6">...</text><text x="2.5" y="37.4">&lt; 3</text><text class="re" x="108" y="37.4">2 &gt;</text></g>
<g id="t-nd_experiment_stockprop" transform="translate(778.5,1976.4)"><rect class="b" width="128.4" height="40.6"/><rect class="h" width="128.4" height="15.7"/><path class="l" d="M0 28.3H128.4M63.2 28.3V40.6M95.3 28.3V40.6"/><text class="n" x="3.5" y="10.9">nd_experiment_stockprop</text><text class="k" x="124.9" y="10.9">[table]</text><text x="2" y="24.6">...</text><text x="2.5" y="37.4">&lt; 2</text></g>
<g id="t-cvterm" transform="translate(99.7,2050.4)"><rect class="b" width="97.3" height="118.7"/><rect class="h" width="97.3" height="16.3"/><path class="l" d="M0 31.5H97.3M0 47.2H97.3M0 62.5H97.3M0 78.2H97.3M0 93.5H97.3M0 106.1H97.3M39.5 106.1V118.7M60.8 106.1V118.7"/><text class="n" x="3.5" y="11.2">cvterm</text><text class="k" x="93.8" y="11.2">[table]</text><use href="#kp" x="7.4" y="23.9"/><text class="c" x="14.5" y="26.6">cvterm_id</text><use href="#kf" x="7.4" y="39.4"/><text class="c" x="14.5" y="42">cv_id</text><text class="c" x="14.5" y="57.5">name</text><use href="#kf" x="7.4" y="70.4"/><text class="c" x="14.5" y="73">dbxref_id</text><text class="c" x="14.5" y="88.5">is_obsolete</text><text x="2" y="102.5">...</text><text x="2.5" y="115.3">&lt; 2</text><text class="re" x="94.8" y="115.3">122 &gt;</text></g>
<g id="t-studyprop" transform="translate(435.4,2063.6)"><rect class="b" width="70.3" height="40.6"/><rect class="h" width="70.3" height="15.7"/><path class="l" d="M0 28.3H70.3M31.1 28.3V40.6M47 28.3V40.6"/><text class="n" x="3.5" y="10.9">studyprop</text><text class="k" x="66.8" y="10.9">[table]</text><text x="2" y="24.6">...</text><text x="2.5" y="37.4">&lt; 2</text><text class="re" x="67.8" y="37.4">1 &gt;</text></g>
<g id="t-cell_line_relationship" transform="translate(242.2,2101.1)"><rect class="b" width="109.8" height="40.6"/><rect class="h" width="109.8" height="15.7"/><path class="l" d="M0 28.3H109.8M53.7 28.3V40.6M81.8 28.3V40.6"/><text class="n" x="3.5" y="10.9">cell_line_relationship</text><text class="k" x="106.3" y="10.9">[table]</text><text x="2" y="24.6">...</text><text x="2.5" y="37.4">&lt; 3</text></g>
<g id="t-cell_lineprop" transform="translate(257.4,2157.4)"><rect class="b" width="79.4" height="40.6"/><rect class="h" width="79.4" height="15.7"/><path class="l" d="M0 28.3H79.4M34.8 28.3V40.6M54.1 28.3V40.6"/><text class="n" x="3.5" y="10.9">cell_lineprop</text><text class="k" x="75.9" y="10.9">[table]</text><text x="2" y="24.6">...</text><text x="2.5" y="37.4">&lt; 2</text><text class="re" x="76.9" y="37.4">1 &gt;</text></g>
<g id="t-chadoprop" transform="translate(261.1,2213.6)"><rect class="b" width="72" height="40.6"/><rect class="h" width="72" height="15.7"/><path class="l" d="M0 28.3H72M34.8 28.3V40.6M53.1 28.3V40.6"/><text class="n" x="3.5" y="10.9">chadoprop</text><text class="k" x="68.5" y="10.9">[table]</text><text x="2" y="24.6">...</text><text x="2.5" y="37.4">&lt; 1</text></g>
<g id="t-control" transform="translate(267.9,2308.3)"><rect class="b" width="58.1" height="40.6"/><rect class="h" width="58.1" height="15.7"/><path class="l" d="M0 28.3H58.1M28 28.3V40.6M42.9 28.3V40.6"/><text class="n" x="3.5" y="10.9">control</text><text class="k" x="54.6" y="10.9">[table]</text><text x="2" y="24.6">...</text><text x="2.5" y="37.4">&lt; 3</text></g>
<g id="t-organism_cvterm" transform="translate(422.6,2335.7)"><rect class="b" width="96.3" height="40.6"/><rect class="h" width="96.3" height="15.7"/><path class="l" d="M0 28.3H96.3M43.9 28.3V40.6M66.9 28.3V40.6"/><text class="n" x="3.5" y="10.9">organism_cvterm</text><text class="k" x="92.8" y="10.9">[table]</text><text x="2" y="24.6">...</text><text x="2.5" y="37.4">&lt; 3</text><text class="re" x="93.8" y="37.4">1 &gt;</text></g>
<g id="t-cvterm_relationship" transform="translate(243.9,2364.1)"><rect class="b" width="105.1" height="40.6"/><rect class="h" width="105.1" height="15.7"/><path class="l" d="M0 28.3H105.1M51.3 28.3V40.6M78.4 28.3V40.6"/><text class="n" x="3.5" y="10.9">cvterm_relationship</text><text class="k" x="101.6" y="10.9">[table]</text><text x="2" y="24.6">...</text><text x="2.5" y="37.4">&lt; 3</text></g>
<g id="t-cvtermprop" transform="translate(259.4,2420.3)"><rect class="b" width="74.3" height="40.6"/><rect class="h" width="74.3" height="15.7"/><path class="l" d="M0 28.3H74.3M35.8 28.3V40.6M54.8 28.3V40.6"/><text class="n" x="3.5" y="10.9">cvtermprop</text><text class="k" x="70.8" y="10.9">[table]</text><text x="2" y="24.6">...</text><text x="2.5" y="37.4">&lt; 2</text></g>
<g id="t-cvtermsynonym" transform="translate(251,2476.6)"><rect class="b" width="91.2" height="40.6"/><rect class="h" width="91.2" height="15.7"/><path class="l" d="M0 28.3H91.2M44.2 28.3V40.6M67.5 28.3V40.6"/><text class="n" x="3.5" y="10.9">cvtermsynonym</text><text class="k" x="87.7" y="10.9">[table]</text><text x="2" y="24.6">...</text><text x="2.5" y="37.4">&lt; 2</text></g>
<g id="t-dbprop" transform="translate(266.9,2532.4)"><rect class="b" width="59.1" height="40.6"/><rect class="h" width="59.1" height="15.7"/><path class="l" d="M0 28.3H59.1M28.3 28.3V40.6M43.9 28.3V40.6"/><text class="n" x="3.5" y="10.9">dbprop</text><text class="k" x="55.6" y="10.9">[table]</text><text x="2" y="24.6">...</text><text x="2.5" y="37.4">&lt; 2</text></g>
<g id="t-phenstatement" transform="translate(427,2617.5)"><rect class="b" width="86.8" height="40.6"/><rect class="h" width="86.8" height="15.7"/><path class="l" d="M0 28.3H86.8M41.9 28.3V40.6M64.8 28.3V40.6"/><text class="n" x="3.5" y="10.9">phenstatement</text><text class="k" x="83.3" y="10.9">[table]</text><text x="2" y="24.6">...</text><text x="2.5" y="37.4">&lt; 5</text></g>
<g id="t-elementresult_relationship" transform="translate(232.1,2627.1)"><rect class="b" width="129.7" height="40.6"/><rect class="h" width="129.7" height="15.7"/><path class="l" d="M0 28.3H129.7M63.8 28.3V40.6M96.6 28.3V40.6"/><text class="n" x="3.5" y="10.9">elementresult_relationship</text><text class="k" x="126.2" y="10.9">[table]</text><text x="2" y="24.6">...</text><text x="2.5" y="37.4">&lt; 3</text></g>
<g id="t-genotypeprop" transform="translate(429,2692.5)"><rect class="b" width="83.8" height="40.6"/><rect class="h" width="83.8" height="15.7"/><path class="l" d="M0 28.3H83.8M40.5 28.3V40.6M61.2 28.3V40.6"/><text class="n" x="3.5" y="10.9">genotypeprop</text><text class="k" x="80.3" y="10.9">[table]</text><text x="2" y="24.6">...</text><text x="2.5" y="37.4">&lt; 2</text></g>
<g id="t-environment_cvterm" transform="translate(242.5,2682.9)"><rect class="b" width="108.1" height="40.6"/><rect class="h" width="108.1" height="15.7"/><path class="l" d="M0 28.3H108.1M52.7 28.3V40.6M80.1 28.3V40.6"/><text class="n" x="3.5" y="10.9">environment_cvterm</text><text class="k" x="104.6" y="10.9">[table]</text><text x="2" y="24.6">...</text><text x="2.5" y="37.4">&lt; 2</text></g>
<g id="t-studyprop_feature" transform="translate(611.6,2063.6)"><rect class="b" width="99.7" height="40.6"/><rect class="h" width="99.7" height="15.7"/><path class="l" d="M0 28.3H99.7M48.3 28.3V40.6M73.7 28.3V40.6"/><text class="n" x="3.5" y="10.9">studyprop_feature</text><text class="k" x="96.2" y="10.9">[table]</text><text x="2" y="24.6">...</text><text x="2.5" y="37.4">&lt; 3</text></g>
<g id="t-featureprop" transform="translate(624.1,2325.7)"><rect class="b" width="75" height="40.6"/><rect class="h" width="75" height="15.7"/><path class="l" d="M0 28.3H75M33.1 28.3V40.6M50.7 28.3V40.6"/><text class="n" x="3.5" y="10.9">featureprop</text><text class="k" x="71.5" y="10.9">[table]</text><text x="2" y="24.6">...</text><text x="2.5" y="37.4">&lt; 2</text><text class="re" x="72.5" y="37.4">1 &gt;</text></g>
<g id="t-genotype" transform="translate(263.8,2739.6)"><rect class="b" width="65.5" height="40.6"/><rect class="h" width="65.5" height="15.7"/><path class="l" d="M0 28.3H65.5M28.4 28.3V40.6M43.9 28.3V40.6"/><text class="n" x="3.5" y="10.9">genotype</text><text class="k" x="62" y="10.9">[table]</text><text x="2" y="24.6">...</text><text x="2.5" y="37.4">&lt; 1</text><text class="re" x="63" y="37.4">8 &gt;</text></g>
<g id="t-phendesc" transform="translate(436.8,2777.9)"><rect class="b" width="67.9" height="40.6"/><rect class="h" width="67.9" height="15.7"/><path class="l" d="M0 28.3H67.9M32.7 28.3V40.6M50.7 28.3V40.6"/><text class="n" x="3.5" y="10.9">phendesc</text><text class="k" x="64.4" y="10.9">[table]</text><text x="2" y="24.6">...</text><text x="2.5" y="37.4">&lt; 4</text></g>
<g id="t-expressionprop" transform="translate(251.7,2815)"><rect class="b" width="89.9" height="40.6"/><rect class="h" width="89.9" height="15.7"/><path class="l" d="M0 28.3H89.9M43.5 28.3V40.6M66.5 28.3V40.6"/><text class="n" x="3.5" y="10.9">expressionprop</text><text class="k" x="86.4" y="10.9">[table]</text><text x="2" y="24.6">...</text><text x="2.5" y="37.4">&lt; 2</text></g>
<g id="t-feature" transform="translate(441.5,2834.2)"><rect class="b" width="57.4" height="40.6"/><rect class="h" width="57.4" height="15.7"/><path class="l" d="M0 28.3H57.4M22.6 28.3V40.6M34.5 28.3V40.6"/><text class="n" x="3.5" y="10.9">feature</text><text class="k" x="53.9" y="10.9">[table]</text><text x="2" y="24.6">...</text><text x="2.5" y="37.4">&lt; 3</text><text class="re" x="54.9" y="37.4">30 &gt;</text></g>
<g id="t-feature_expressionprop" transform="translate(237.1,2909.6)"><rect class="b" width="119.9" height="40.6"/><rect class="h" width="119.9" height="15.7"/><path class="l" d="M0 28.3H119.9M58.8 28.3V40.6M89.2 28.3V40.6"/><text class="n" x="3.5" y="10.9">feature_expressionprop</text><text class="k" x="116.4" y="10.9">[table]</text><text x="2" y="24.6">...</text><text x="2.5" y="37.4">&lt; 2</text></g>
<g id="t-phenotype_comparison_cvterm" transform="translate(396.9,2947.6)"><rect class="b" width="147.8" height="40.6"/><rect class="h" width="147.8" height="15.7"/><path class="l" d="M0 28.3H147.8M73 28.3V40.6M110.1 28.3V40.6"/><text class="n" x="3.5" y="10.9">phenotype_comparison_cvterm</text><text class="k" x="144.3" y="10.9">[table]</text><text x="2" y="24.6">...</text><text x="2.5" y="37.4">&lt; 3</text></g>
<g id="t-pub" transform="translate(273.3,2985.5)"><rect class="b" width="46.3" height="40.6"/><rect class="h" width="46.3" height="15.7"/><path class="l" d="M0 28.3H46.3M16.9 28.3V40.6M26.3 28.3V40.6"/><text class="n" x="3.5" y="10.9">pub</text><text class="k" x="42.8" y="10.9">[table]</text><text x="2" y="24.6">...</text><text x="2.5" y="37.4">&lt; 1</text><text class="re" x="43.8" y="37.4">47 &gt;</text></g>
<g id="t-feature_pubprop" transform="translate(250.3,3041.8)"><rect class="b" width="93.2" height="40.6"/><rect class="h" width="93.2" height="15.7"/><path class="l" d="M0 28.3H93.2M45.6 28.3V40.6M69.3 28.3V40.6"/><text class="n" x="3.5" y="10.9">feature_pubprop</text><text class="k" x="89.7" y="10.9">[table]</text><text x="2" y="24.6">...</text><text x="2.5" y="37.4">&lt; 2</text></g>
<g id="t-pub_relationship" transform="translate(423.6,3044.4)"><rect class="b" width="93.9" height="40.6"/><rect class="h" width="93.9" height="15.7"/><path class="l" d="M0 28.3H93.9M45.3 28.3V40.6M69.6 28.3V40.6"/><text class="n" x="3.5" y="10.9">pub_relationship</text><text class="k" x="90.4" y="10.9">[table]</text><text x="2" y="24.6">...</text><text x="2.5" y="37.4">&lt; 3</text></g>
<g id="t-featureposprop" transform="translate(252.3,3155.6)"><rect class="b" width="89.2" height="40.6"/><rect class="h" width="89.2" height="15.7"/><path class="l" d="M0 28.3H89.2M43.6 28.3V40.6M65.9 28.3V40.6"/><text class="n" x="3.5" y="10.9">featureposprop</text><text class="k" x="85.7" y="10.9">[table]</text><text x="2" y="24.6">...</text><text x="2.5" y="37.4">&lt; 2</text></g>
<g id="t-organism" transform="translate(263.8,3231)"><rect class="b" width="66.2" height="40.6"/><rect class="h" width="66.2" height="15.7"/><path class="l" d="M0 28.3H66.2M26.4 28.3V40.6M41.2 28.3V40.6"/><text class="n" x="3.5" y="10.9">organism</text><text class="k" x="62.7" y="10.9">[table]</text><text x="2" y="24.6">...</text><text x="2.5" y="37.4">&lt; 1</text><text class="re" x="63.7" y="37.4">14 &gt;</text></g>
<g id="t-organismprop" transform="translate(428.3,3231)"><rect class="b" width="84.5" height="40.6"/><rect class="h" width="84.5" height="15.7"/><path class="l" d="M0 28.3H84.5M38.2 28.3V40.6M57.5 28.3V40.6"/><text class="n" x="3.5" y="10.9">organismprop</text><text class="k" x="81" y="10.9">[table]</text><text x="2" y="24.6">...</text><text x="2.5" y="37.4">&lt; 2</text><text class="re" x="82" y="37.4">1 &gt;</text></g>
<g id="t-library_expressionprop" transform="translate(237.8,3286.9)"><rect class="b" width="117.6" height="40.6"/><rect class="h" width="117.6" height="15.7"/><path class="l" d="M0 28.3H117.6M57.4 28.3V40.6M87.5 28.3V40.6"/><text class="n" x="3.5" y="10.9">library_expressionprop</text><text class="k" x="114.1" y="10.9">[table]</text><text x="2" y="24.6">...</text><text x="2.5" y="37.4">&lt; 2</text></g>
<g id="t-stock" transform="translate(444.5,3296.5)"><rect class="b" width="51.7" height="40.6"/><rect class="h" width="51.7" height="15.7"/><path class="l" d="M0 28.3H51.7M20 28.3V40.6M30.5 28.3V40.6"/><text class="n" x="3.5" y="10.9">stock</text><text class="k" x="48.2" y="10.9">[table]</text><text x="2" y="24.6">...</text><text x="2.5" y="37.4">&lt; 3</text><text class="re" x="49.2" y="37.4">13 &gt;</text></g>
<g id="t-library_featureprop" transform="translate(245.6,3343.1)"><rect class="b" width="102.7" height="40.6"/><rect class="h" width="102.7" height="15.7"/><path class="l" d="M0 28.3H102.7M50.3 28.3V40.6M76.3 28.3V40.6"/><text class="n" x="3.5" y="10.9">library_featureprop</text><text class="k" x="99.2" y="10.9">[table]</text><text x="2" y="24.6">...</text><text x="2.5" y="37.4">&lt; 2</text></g>
<g id="t-pubprop" transform="translate(439.1,3371.9)"><rect class="b" width="63.5" height="40.6"/><rect class="h" width="63.5" height="15.7"/><path class="l" d="M0 28.3H63.5M30.4 28.3V40.6M47 28.3V40.6"/><text class="n" x="3.5" y="10.9">pubprop</text><text class="k" x="60" y="10.9">[table]</text><text x="2" y="24.6">...</text><text x="2.5" y="37.4">&lt; 2</text></g>
<g id="t-quantification_relationship" transform="translate(231.7,3399.4)"><rect class="b" width="130.1" height="40.6"/><rect class="h" width="130.1" height="15.7"/><path class="l" d="M0 28.3H130.1M63.5 28.3V40.6M96.3 28.3V40.6"/><text class="n" x="3.5" y="10.9">quantification_relationship</text><text class="k" x="126.6" y="10.9">[table]</text><text x="2" y="24.6">...</text><text x="2.5" y="37.4">&lt; 3</text></g>
<g id="t-feature_genotype" transform="translate(613.7,2834.2)"><rect class="b" width="96.3" height="40.6"/><rect class="h" width="96.3" height="15.7"/><path class="l" d="M0 28.3H96.3M46.9 28.3V40.6M71.6 28.3V40.6"/><text class="n" x="3.5" y="10.9">feature_genotype</text><text class="k" x="92.8" y="10.9">[table]</text><text x="2" y="24.6">...</text><text x="2.5" y="37.4">&lt; 4</text></g>
<g id="t-stock_cvtermprop" transform="translate(793,2870)"><rect class="b" width="99" height="40.6"/><rect class="h" width="99" height="15.7"/><path class="l" d="M0 28.3H99M48.7 28.3V40.6M73.7 28.3V40.6"/><text class="n" x="3.5" y="10.9">stock_cvtermprop</text><text class="k" x="95.5" y="10.9">[table]</text><text x="2" y="24.6">...</text><text x="2.5" y="37.4">&lt; 2</text></g>
<g id="t-feature_relationship" transform="translate(608.9,3032.6)"><rect class="b" width="105.7" height="40.6"/><rect class="h" width="105.7" height="15.7"/><path class="l" d="M0 28.3H105.7M48.3 28.3V40.6M73.7 28.3V40.6"/><text class="n" x="3.5" y="10.9">feature_relationship</text><text class="k" x="102.2" y="10.9">[table]</text><text x="2" y="24.6">...</text><text x="2.5" y="37.4">&lt; 3</text><text class="re" x="103.2" y="37.4">2 &gt;</text></g>
<g id="t-stock_feature" transform="translate(620.4,3096.3)"><rect class="b" width="82.1" height="40.6"/><rect class="h" width="82.1" height="15.7"/><path class="l" d="M0 28.3H82.1M40.2 28.3V40.6M61.5 28.3V40.6"/><text class="n" x="3.5" y="10.9">stock_feature</text><text class="k" x="78.6" y="10.9">[table]</text><text x="2" y="24.6">...</text><text x="2.5" y="37.4">&lt; 3</text></g>
<g id="t-stock_cvterm" transform="translate(620.4,3171.3)"><rect class="b" width="81.4" height="40.6"/><rect class="h" width="81.4" height="15.7"/><path class="l" d="M0 28.3H81.4M36.8 28.3V40.6M55.7 28.3V40.6"/><text class="n" x="3.5" y="10.9">stock_cvterm</text><text class="k" x="77.9" y="10.9">[table]</text><text x="2" y="24.6">...</text><text x="2.5" y="37.4">&lt; 3</text><text class="re" x="78.9" y="37.4">1 &gt;</text></g>
<g id="t-stock_relationship" transform="translate(611.6,3296.5)"><rect class="b" width="99.3" height="40.6"/><rect class="h" width="99.3" height="15.7"/><path class="l" d="M0 28.3H99.3M45.6 28.3V40.6M69.6 28.3V40.6"/><text class="n" x="3.5" y="10.9">stock_relationship</text><text class="k" x="95.8" y="10.9">[table]</text><text x="2" y="24.6">...</text><text x="2.5" y="37.4">&lt; 3</text><text class="re" x="96.8" y="37.4">2 &gt;</text></g>
<g id="t-stock_relationship_cvterm" transform="translate(777.8,3296.5)"><rect class="b" width="129" height="40.6"/><rect class="h" width="129" height="15.7"/><path class="l" d="M0 28.3H129M63.2 28.3V40.6M96 28.3V40.6"/><text class="n" x="3.5" y="10.9">stock_relationship_cvterm</text><text class="k" x="125.5" y="10.9">[table]</text><text x="2" y="24.6">...</text><text x="2.5" y="37.4">&lt; 3</text></g>
<g id="t-organism_relationship" transform="translate(413.8,3427.6)"><rect class="b" width="114.2" height="40.6"/><rect class="h" width="114.2" height="15.7"/><path class="l" d="M0 28.3H114.2M55.7 28.3V40.6M84.8 28.3V40.6"/><text class="n" x="3.5" y="10.9">organism_relationship</text><text class="k" x="110.7" y="10.9">[table]</text><text x="2" y="24.6">...</text><text x="2.5" y="37.4">&lt; 3</text></g>
<g id="t-nd_geolocationprop" transform="translate(243.9,3569.8)"><rect class="b" width="105.7" height="40.6"/><rect class="h" width="105.7" height="15.7"/><path class="l" d="M0 28.3H105.7M52 28.3V40.6M78.7 28.3V40.6"/><text class="n" x="3.5" y="10.9">nd_geolocationprop</text><text class="k" x="102.2" y="10.9">[table]</text><text x="2" y="24.6">...</text><text x="2.5" y="37.4">&lt; 2</text></g>
<g id="t-library" transform="translate(443.2,3607.6)"><rect class="b" width="55.4" height="40.6"/><rect class="h" width="55.4" height="15.7"/><path class="l" d="M0 28.3H55.4M20.9 28.3V40.6M32.8 28.3V40.6"/><text class="n" x="3.5" y="10.9">library</text><text class="k" x="51.9" y="10.9">[table]</text><text x="2" y="24.6">...</text><text x="2.5" y="37.4">&lt; 2</text><text class="re" x="52.9" y="37.4">12 &gt;</text></g>
<g id="t-expression_cvterm" transform="translate(246.3,3778.2)"><rect class="b" width="101.3" height="40.6"/><rect class="h" width="101.3" height="15.7"/><path class="l" d="M0 28.3H101.3M45.9 28.3V40.6M70.6 28.3V40.6"/><text class="n" x="3.5" y="10.9">expression_cvterm</text><text class="k" x="97.8" y="10.9">[table]</text><text x="2" y="24.6">...</text><text x="2.5" y="37.4">&lt; 3</text><text class="re" x="98.8" y="37.4">1 &gt;</text></g>
<g id="t-expression_cvtermprop" transform="translate(411.1,3768.3)"><rect class="b" width="119" height="40.6"/><rect class="h" width="119" height="15.7"/><path class="l" d="M0 28.3H119M57.8 28.3V40.6M87.8 28.3V40.6"/><text class="n" x="3.5" y="10.9">expression_cvtermprop</text><text class="k" x="115.5" y="10.9">[table]</text><text x="2" y="24.6">...</text><text x="2.5" y="37.4">&lt; 2</text></g>
<g id="t-featuremap" transform="translate(260.1,3872.3)"><rect class="b" width="73.6" height="40.6"/><rect class="h" width="73.6" height="15.7"/><path class="l" d="M0 28.3H73.6M32.1 28.3V40.6M50 28.3V40.6"/><text class="n" x="3.5" y="10.9">featuremap</text><text class="k" x="70.1" y="10.9">[table]</text><text x="2" y="24.6">...</text><text x="2.5" y="37.4">&lt; 1</text><text class="re" x="71.1" y="37.4">8 &gt;</text></g>
<g id="t-featuremapprop" transform="translate(425,3891.7)"><rect class="b" width="91.2" height="40.6"/><rect class="h" width="91.2" height="15.7"/><path class="l" d="M0 28.3H91.2M43.9 28.3V40.6M67.5 28.3V40.6"/><text class="n" x="3.5" y="10.9">featuremapprop</text><text class="k" x="87.7" y="10.9">[table]</text><text x="2" y="24.6">...</text><text x="2.5" y="37.4">&lt; 2</text></g>
<g id="t-cv" transform="translate(16.2,3967.3)"><rect class="b" width="40.5" height="40.6"/><rect class="h" width="40.5" height="15.7"/><path class="l" d="M0 28.3H40.5M12.9 28.3V40.6M23 28.3V40.6"/><text class="n" x="3.5" y="10.9">cv</text><text class="k" x="37" y="10.9">[table]</text><text x="2" y="24.6">...</text><text class="re" x="38" y="37.4">3 &gt;</text></g>
<g id="t-cvtermpath" transform="translate(260.1,3967.3)"><rect class="b" width="73.6" height="40.6"/><rect class="h" width="73.6" height="15.7"/><path class="l" d="M0 28.3H73.6M35.8 28.3V40.6M54.7 28.3V40.6"/><text class="n" x="3.5" y="10.9">cvtermpath</text><text class="k" x="70.1" y="10.9">[table]</text><text x="2" y="24.6">...</text><text x="2.5" y="37.4">&lt; 4</text></g>
<g id="t-cvprop" transform="translate(267.9,4023.2)"><rect class="b" width="57.4" height="40.6"/><rect class="h" width="57.4" height="15.7"/><path class="l" d="M0 28.3H57.4M27.3 28.3V40.6M42.2 28.3V40.6"/><text class="n" x="3.5" y="10.9">cvprop</text><text class="k" x="53.9" y="10.9">[table]</text><text x="2" y="24.6">...</text><text x="2.5" y="37.4">&lt; 2</text></g>
<g id="t-stockprop" transform="translate(626.8,3422.4)"><rect class="b" width="69.6" height="40.6"/><rect class="h" width="69.6" height="15.7"/><path class="l" d="M0 28.3H69.6M30.4 28.3V40.6M46.6 28.3V40.6"/><text class="n" x="3.5" y="10.9">stockprop</text><text class="k" x="66.1" y="10.9">[table]</text><text x="2" y="24.6">...</text><text x="2.5" y="37.4">&lt; 2</text><text class="re" x="67.1" y="37.4">1 &gt;</text></g>
<g id="t-library_cvterm" transform="translate(619.4,3569.4)"><rect class="b" width="84.8" height="40.6"/><rect class="h" width="84.8" height="15.7"/><path class="l" d="M0 28.3H84.8M41.2 28.3V40.6M63.2 28.3V40.6"/><text class="n" x="3.5" y="10.9">library_cvterm</text><text class="k" x="81.3" y="10.9">[table]</text><text x="2" y="24.6">...</text><text x="2.5" y="37.4">&lt; 3</text></g>
<g id="t-library_relationship" transform="translate(609.6,3625.3)"><rect class="b" width="103.7" height="40.6"/><rect class="h" width="103.7" height="15.7"/><path class="l" d="M0 28.3H103.7M47.6 28.3V40.6M72.3 28.3V40.6"/><text class="n" x="3.5" y="10.9">library_relationship</text><text class="k" x="100.2" y="10.9">[table]</text><text x="2" y="24.6">...</text><text x="2.5" y="37.4">&lt; 3</text><text class="re" x="101.2" y="37.4">1 &gt;</text></g>
<g id="t-libraryprop" transform="translate(625.1,3681.5)"><rect class="b" width="72.6" height="40.6"/><rect class="h" width="72.6" height="15.7"/><path class="l" d="M0 28.3H72.6M32.1 28.3V40.6M49 28.3V40.6"/><text class="n" x="3.5" y="10.9">libraryprop</text><text class="k" x="69.1" y="10.9">[table]</text><text x="2" y="24.6">...</text><text x="2.5" y="37.4">&lt; 2</text><text class="re" x="70.1" y="37.4">1 &gt;</text></g>
<g id="t-feature_relationshipprop" transform="translate(781.2,3700.9)"><rect class="b" width="123" height="40.6"/><rect class="h" width="123" height="15.7"/><path class="l" d="M0 28.3H123M56.8 28.3V40.6M86.5 28.3V40.6"/><text class="n" x="3.5" y="10.9">feature_relationshipprop</text><text class="k" x="119.5" y="10.9">[table]</text><text x="2" y="24.6">...</text><text x="2.5" y="37.4">&lt; 2</text><text class="re" x="120.5" y="37.4">1 &gt;</text></g>
<g id="t-feature_cvterm" transform="translate(618,3766.6)"><rect class="b" width="87.2" height="40.6"/><rect class="h" width="87.2" height="15.7"/><path class="l" d="M0 28.3H87.2M39.2 28.3V40.6M59.5 28.3V40.6"/><text class="n" x="3.5" y="10.9">feature_cvterm</text><text class="k" x="83.7" y="10.9">[table]</text><text x="2" y="24.6">...</text><text x="2.5" y="37.4">&lt; 3</text><text class="re" x="84.7" y="37.4">3 &gt;</text></g>
<g id="t-feature_cvtermprop" transform="translate(790.3,3785.5)"><rect class="b" width="104.7" height="40.6"/><rect class="h" width="104.7" height="15.7"/><path class="l" d="M0 28.3H104.7M51.4 28.3V40.6M78.1 28.3V40.6"/><text class="n" x="3.5" y="10.9">feature_cvtermprop</text><text class="k" x="101.2" y="10.9">[table]</text><text x="2" y="24.6">...</text><text x="2.5" y="37.4">&lt; 2</text></g>
<g id="t-stock_featuremap" transform="translate(613,3872.3)"><rect class="b" width="97.6" height="40.6"/><rect class="h" width="97.6" height="15.7"/><path class="l" d="M0 28.3H97.6M47.6 28.3V40.6M72.3 28.3V40.6"/><text class="n" x="3.5" y="10.9">stock_featuremap</text><text class="k" x="94.1" y="10.9">[table]</text><text x="2" y="24.6">...</text><text x="2.5" y="37.4">&lt; 3</text></g>
</g>
<text x="8.4" y="4086" style="font-size:7.5px;fill:#222">Generated by SchemaSpy</text>
</svg>
